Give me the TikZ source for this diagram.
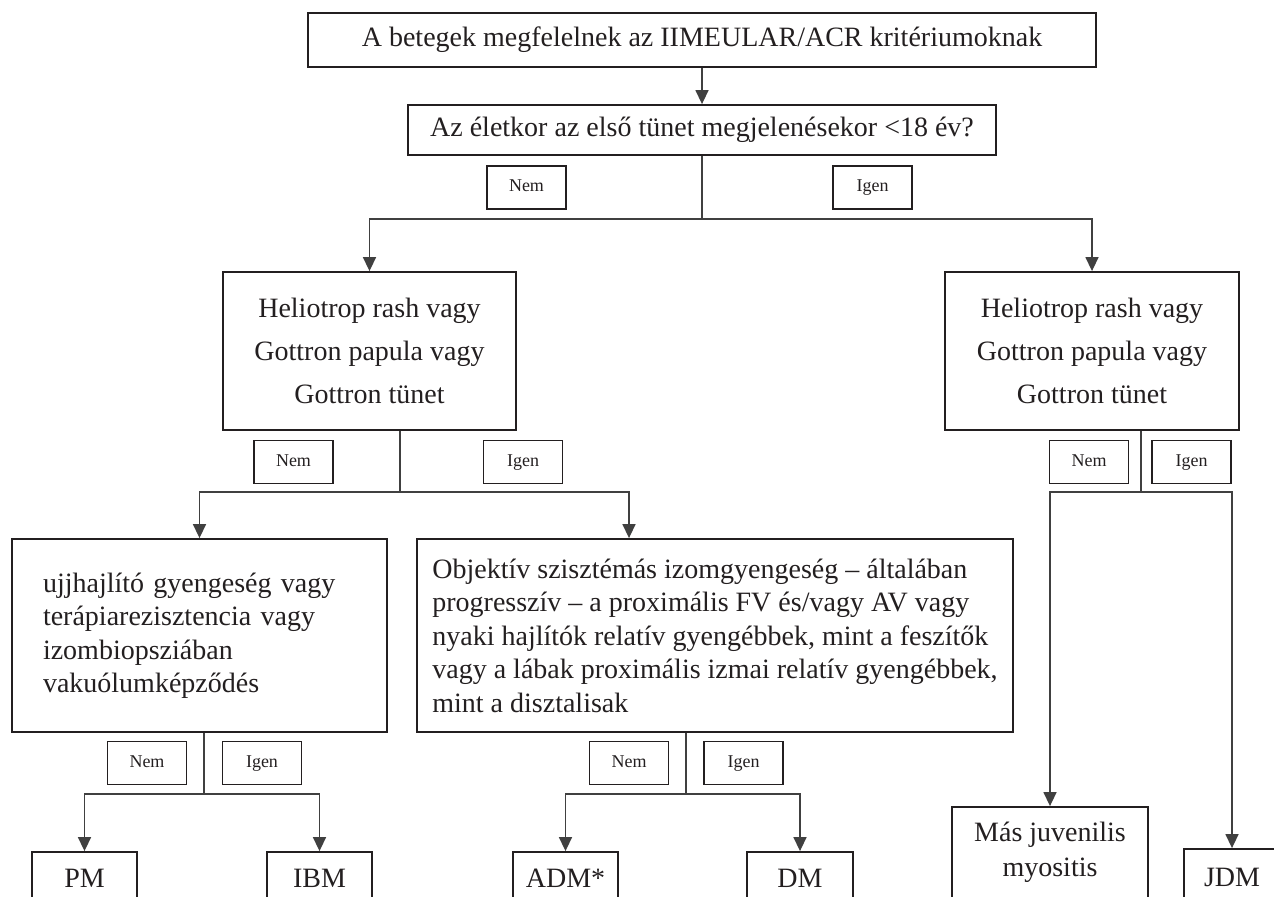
\documentclass[tikz,border=0pt]{standalone}
\usepackage{fontspec}
\setmainfont{Liberation Serif}
\usetikzlibrary{arrows.meta}
\definecolor{fontgray}{RGB}{35, 31, 32}
\definecolor{linegray}{RGB}{64, 64, 64}

\begin{document}
\begin{tikzpicture}[x=0.5pt, y=-0.5pt, >={Triangle[width=6.5pt,length=7pt]},
		qbox/.style={draw=fontgray, line width=0.9pt, rectangle, inner sep=0pt, text=fontgray, font=\fontsize{14}{17}\selectfont},
		multiq/.style={qbox, align=center, font=\fontsize{14}{21.5}\selectfont},
		longq/.style={qbox, align=left, font=\fontsize{14}{16.75}\selectfont},
		leaf/.style={qbox, minimum height=26pt},
		answer/.style={draw=fontgray, line width=0.8pt, rectangle, minimum width=39.5pt, minimum height=21.5pt, inner sep=0pt, text height=6.5pt, text depth=2pt, text=fontgray, font=\fontsize{9}{11}\selectfont},
		chainLine/.style={line width=0.75pt, ->, color=linegray},
		]
		
		\useasboundingbox (0,0) rectangle (1274,897);
		\clip (0,0) rectangle (1274,897);
		
		\node[qbox, minimum width=394pt, minimum height=27pt] (q0) at (702,40) {A betegek megfelelnek az IIMEULAR/ACR kritériumoknak};
		\node[qbox, minimum width=294pt, minimum height=25pt] (q1) at (702,130) {Az életkor az első tünet megjelenésekor <18 év?};
		
		\node[multiq, minimum width=146.5pt, minimum height=79pt] (hl) at (369.5,351) {Heliotrop rash vagy\\Gottron papula vagy\\Gottron tünet};
		\node[multiq, minimum width=147pt, minimum height=79pt] (hr) at (1092,351) {Heliotrop rash vagy\\Gottron papula vagy\\Gottron tünet};
		
		\node[longq, text width=156.5pt, inner xsep=15.5pt, minimum height=96.5pt] (uj) at (199.5,635.5) {ujjhajlító gyengeség vagy\\terápiarezisztencia vagy\\izombiopsziában\\vakuólumképződés};
		\node[longq, minimum width=298pt, minimum height=96.5pt] (ob) at (715,635.5) {Objektív szisztémás izomgyengeség – általában\\progresszív – a proximális FV és/vagy AV vagy\\nyaki hajlítók relatív gyengébbek, mint a feszítők\\vagy a lábak proximális izmai relatív gyengébbek,\\mint a disztalisak};
		
		\node[leaf, minimum width=52.5pt] (pm) at (84.5,878) {PM};
		\node[leaf, minimum width=52.5pt] (ibm) at (319.5,878) {IBM};
		\node[leaf, minimum width=52.5pt] (adm) at (565.5,878) {ADM*};
		\node[leaf, minimum width=53pt] (dm) at (800,878) {DM};
		\node[qbox, align=center, font=\fontsize{14}{17.5}\selectfont, minimum width=98pt, minimum height=45.5pt] (mas) at (1050,852.5) {Más juvenilis\\myositis};
		\node[leaf, minimum width=48pt, minimum height=28pt] (jdm) at (1232,877) {JDM};
		
		\node[answer] (n0) at (526.5,187.5) {Nem};
		\node[answer] (i0) at (872.5,187.5) {Igen};
		\node[answer] (n1) at (293.5,462) {Nem};
		\node[answer] (i1) at (523,462) {Igen};
		\node[answer] (n2) at (1089,462) {Nem};
		\node[answer] (i2) at (1191.5,462) {Igen};
		\node[answer] (n3) at (147,763) {Nem};
		\node[answer] (i3) at (262,763) {Igen};
		\node[answer] (n4) at (629,763) {Nem};
		\node[answer] (i4) at (743.5,763) {Igen};
		
		\coordinate (s0) at (702,219);
		\coordinate (s1) at (400,492);
		\coordinate (s2) at (1141,492);
		\coordinate (s3) at (204,794);
		\coordinate (s4) at (686,794);
		
		\draw [chainLine] (q0) -- (q1);
		\draw [chainLine, -] (q1) -- (s0);
		\draw [chainLine] (s0) -| (hl);
		\draw [chainLine] (s0) -| (hr);
		
		\draw [chainLine, -] (hl.south -| s1) -- (s1);
		\draw [chainLine] (s1) -| (uj);
		\draw [chainLine] (s1) -| ([xshift=-43pt]ob.north);
		
		\draw [chainLine, -] (hr.south -| s2) -- (s2);
		\draw [chainLine] (s2) -| (mas);
		\draw [chainLine] (s2) -| (jdm);
		
		\draw [chainLine, -] (uj.south -| s3) -- (s3);
		\draw [chainLine] (s3) -| (pm);
		\draw [chainLine] (s3) -| (ibm);
		
		\draw [chainLine, -] (ob.south -| s4) -- (s4);
		\draw [chainLine] (s4) -| (adm);
		\draw [chainLine] (s4) -| (dm);
		
\end{tikzpicture}
\end{document}
